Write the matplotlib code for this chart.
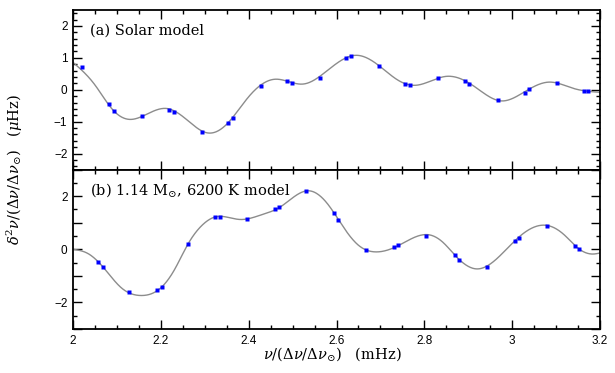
import numpy as np
import matplotlib
matplotlib.use("Agg")
import matplotlib.pyplot as plt
from matplotlib.ticker import MultipleLocator, FuncFormatter

# ---- (a) solar model: measured second differences ----
solar_nu = [2.020, 2.081, 2.093, 2.156, 2.219, 2.230, 2.294, 2.353, 2.364,
            2.428, 2.487, 2.498, 2.562, 2.622, 2.633, 2.696, 2.757, 2.767,
            2.831, 2.893, 2.902, 2.968, 3.029, 3.038, 3.102, 3.163, 3.173]
solar_d2 = [0.72, -0.44, -0.67, -0.81, -0.62, -0.69, -1.31, -1.04, -0.87,
            0.12, 0.27, 0.21, 0.38, 1.00, 1.06, 0.75, 0.19, 0.15,
            0.375, 0.26, 0.19, -0.31, -0.09, 0.01, 0.22, -0.04, -0.05]

# fitted oscillation (knots of the smooth curve)
solar_fit_nu = [2.000, 2.050, 2.090, 2.130, 2.175, 2.215, 2.260, 2.305, 2.350,
                2.400, 2.460, 2.525, 2.590, 2.645, 2.700, 2.740, 2.780, 2.850,
                2.910, 2.975, 3.030, 3.085, 3.140, 3.200]
solar_fit_d2 = [0.86, 0.15, -0.62, -0.93, -0.72, -0.59, -0.95, -1.35, -1.08,
                -0.22, 0.33, 0.18, 0.72, 1.08, 0.72, 0.30, 0.14, 0.42,
                0.14, -0.35, -0.05, 0.24, 0.04, -0.08]

# ---- (b) 1.14 Msun, 6200 K model ----
star_nu = [2.057, 2.068, 2.128, 2.191, 2.203, 2.262, 2.323, 2.335, 2.396,
           2.460, 2.469, 2.531, 2.594, 2.604, 2.667, 2.731, 2.741, 2.804,
           2.870, 2.879, 2.943, 3.006, 3.015, 3.079, 3.143, 3.152]
star_d2 = [-0.48, -0.66, -1.59, -1.55, -1.41, 0.20, 1.22, 1.20, 1.15,
           1.51, 1.58, 2.18, 1.36, 1.10, -0.03, 0.09, 0.15, 0.51,
           -0.21, -0.40, -0.65, 0.32, 0.44, 0.87, 0.12, 0.01]

star_fit_nu = [2.000, 2.035, 2.070, 2.110, 2.155, 2.195, 2.230, 2.262, 2.295,
               2.325, 2.380, 2.430, 2.470, 2.536, 2.580, 2.615, 2.650, 2.690,
               2.740, 2.812, 2.845, 2.870, 2.920, 2.975, 3.010, 3.078, 3.120,
               3.150, 3.185, 3.200]
star_fit_d2 = [0.00, -0.17, -0.70, -1.45, -1.74, -1.52, -0.80, 0.20, 0.92,
               1.22, 1.12, 1.30, 1.57, 2.20, 1.70, 0.85, 0.15, -0.10,
               0.13, 0.54, 0.22, -0.23, -0.74, -0.20, 0.38, 0.90, 0.52,
               0.04, -0.18, -0.14]


def natural_spline(xk, yk, xs):
    xk = np.asarray(xk, float)
    yk = np.asarray(yk, float)
    n = len(xk)
    h = np.diff(xk)
    A = np.zeros((n, n))
    r = np.zeros(n)
    A[0, 0] = 1.0
    A[-1, -1] = 1.0
    for i in range(1, n - 1):
        A[i, i - 1] = h[i - 1]
        A[i, i] = 2.0 * (h[i - 1] + h[i])
        A[i, i + 1] = h[i]
        r[i] = 6.0 * ((yk[i + 1] - yk[i]) / h[i] - (yk[i] - yk[i - 1]) / h[i - 1])
    M = np.linalg.solve(A, r)
    idx = np.clip(np.searchsorted(xk, xs) - 1, 0, n - 2)
    x0, x1 = xk[idx], xk[idx + 1]
    hh = x1 - x0
    a = (x1 - xs) / hh
    b = (xs - x0) / hh
    return (a * yk[idx] + b * yk[idx + 1]
            + ((a ** 3 - a) * M[idx] + (b ** 3 - b) * M[idx + 1]) * hh ** 2 / 6.0)


plt.rcParams["mathtext.fontset"] = "dejavuserif"
tick_family = "Liberation Sans"
tick_size = 8.5
label_size = 10.5

fig = plt.figure(figsize=(6.15, 3.73), dpi=100)
left, width = 73 / 615, 527 / 615
h = 159.5 / 373
ax1 = fig.add_axes([left, 1 - 169.5 / 373, width, h])
ax2 = fig.add_axes([left, 1 - 329 / 373, width, h])

grid = np.linspace(2.0, 3.2, 1200)
for ax, fk, fv, px, py in [(ax1, solar_fit_nu, solar_fit_d2, solar_nu, solar_d2),
                           (ax2, star_fit_nu, star_fit_d2, star_nu, star_d2)]:
    ax.plot(grid, natural_spline(fk, fv, grid), color="#8c8c8c", lw=1.0, zorder=2)
    ax.plot(px, py, "s", color="#0000ff", ms=3.4, mec="none", zorder=3)
    ax.set_xlim(2.0, 3.2)
    ax.xaxis.set_major_locator(MultipleLocator(0.2))
    ax.xaxis.set_minor_locator(MultipleLocator(0.05))
    ax.tick_params(which="both", direction="in", top=True, right=True,
                   width=1.0, color="black")
    ax.tick_params(which="major", length=6.5)
    ax.tick_params(which="minor", length=3.2)
    for s in ax.spines.values():
        s.set_linewidth(1.3)

ax1.set_ylim(-2.5, 2.5)
ax1.yaxis.set_major_locator(MultipleLocator(1))
ax1.yaxis.set_minor_locator(MultipleLocator(0.2))
ax1.tick_params(labelbottom=False)

ax2.set_ylim(-3, 3)
ax2.yaxis.set_major_locator(MultipleLocator(1))
ax2.yaxis.set_minor_locator(MultipleLocator(0.5))
ax2.yaxis.set_major_formatter(FuncFormatter(
    lambda v, p: (f"{v:g}".replace("-", "\u2212") if abs(v) % 2 < 1e-9 else "")))
ax2.xaxis.set_major_formatter(FuncFormatter(lambda v, p: f"{v:g}"))

for ax in (ax1, ax2):
    ax.tick_params(axis="both", labelsize=tick_size, pad=4)
    for lab in ax.get_xticklabels() + ax.get_yticklabels():
        lab.set_fontfamily(tick_family)

ax1.text(0.032, 0.87, "(a) Solar model", transform=ax1.transAxes,
         family="DejaVu Serif", fontsize=label_size, va="center", ha="left")
ax2.text(0.032, 0.87, r"(b) 1.14 M$_{\odot}$, 6200 K model", transform=ax2.transAxes,
         family="DejaVu Serif", fontsize=label_size, va="center", ha="left")

fig.text(332 / 615, 1 - 354 / 373,
         r"$\nu/(\Delta\nu/\Delta\nu_{\odot})$   (mHz)",
         family="DejaVu Serif", fontsize=label_size, ha="center", va="center")
fig.text(15 / 615, 1 - 169 / 373,
         r"$\delta^2\nu/(\Delta\nu/\Delta\nu_{\odot})$   ($\mu$Hz)",
         family="DejaVu Serif", fontsize=label_size, ha="center", va="center",
         rotation=90)

fig.savefig("out.png", dpi=100)
